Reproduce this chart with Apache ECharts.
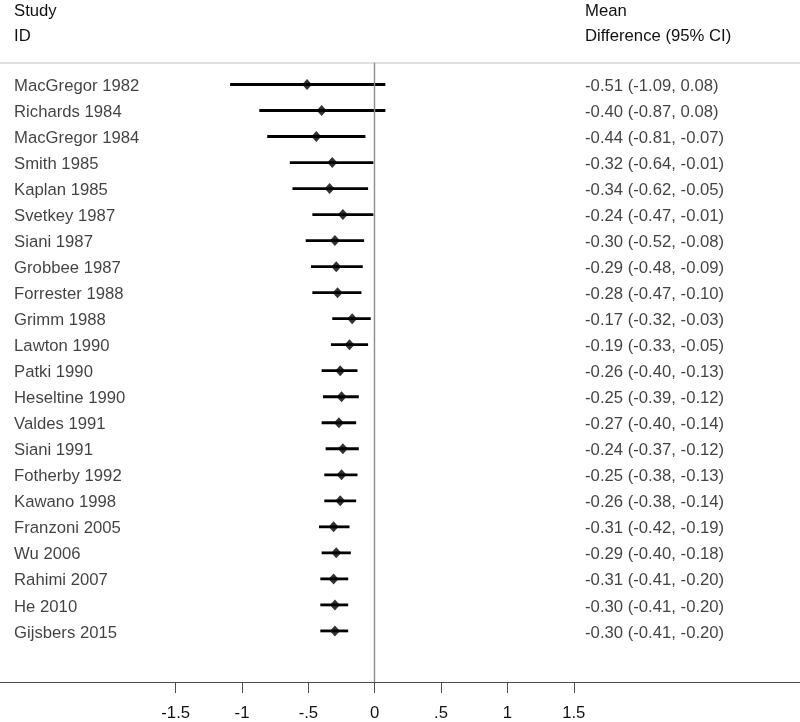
<!DOCTYPE html>
<html>
<head>
<meta charset="utf-8">
<script src="https://cdn.jsdelivr.net/npm/echarts@6/dist/echarts.min.js"></script>
<style>html,body{margin:0;padding:0;background:#fff;}#c{width:800px;height:722px;}</style>
</head>
<body>
<div id="c"></div>
<script>
var studies = ["MacGregor 1982","Richards 1984","MacGregor 1984","Smith 1985","Kaplan 1985","Svetkey 1987","Siani 1987","Grobbee 1987","Forrester 1988","Grimm 1988","Lawton 1990","Patki 1990","Heseltine 1990","Valdes 1991","Siani 1991","Fotherby 1992","Kawano 1998","Franzoni 2005","Wu 2006","Rahimi 2007","He 2010","Gijsbers 2015"];
var means = [-0.51,-0.40,-0.44,-0.32,-0.34,-0.24,-0.30,-0.29,-0.28,-0.17,-0.19,-0.26,-0.25,-0.27,-0.24,-0.25,-0.26,-0.31,-0.29,-0.31,-0.30,-0.30];
var lows = [-1.09,-0.87,-0.81,-0.64,-0.62,-0.47,-0.52,-0.48,-0.47,-0.32,-0.33,-0.40,-0.39,-0.40,-0.37,-0.38,-0.38,-0.42,-0.40,-0.41,-0.41,-0.41];
var highs = [0.08,0.08,-0.07,-0.01,-0.05,-0.01,-0.08,-0.09,-0.10,-0.03,-0.05,-0.13,-0.12,-0.14,-0.12,-0.13,-0.14,-0.19,-0.18,-0.20,-0.20,-0.20];
var tickValues = [-1.5,-1,-0.5,0,0.5,1,1.5];
var tickLabels = ["-1.5","-1","-.5","0",".5","1","1.5"];
var headerLeft = ["Study","ID"];
var headerRight = ["Mean","Difference (95% CI)"];

function fmt(v){ return (v < 0 ? "-" : "") + Math.abs(v).toFixed(2); }

var FONT = "Liberation Sans, Arial, sans-serif";
var FS = 16.7;
var TXT = "#111";
var NAME_X = -2.718, CI_X = 1.585;

var chart = echarts.init(document.getElementById('c'), null, {renderer:'canvas'});

var barData = studies.map(function(s,i){ return [lows[i], highs[i], i]; });
var ptData = studies.map(function(s,i){ return [means[i], i]; });
var nameData = studies.map(function(s,i){ return {value:[NAME_X, i], label:{formatter: s}}; });
var ciData = studies.map(function(s,i){ return {value:[CI_X, i], label:{formatter: fmt(means[i]) + " (" + fmt(lows[i]) + ", " + fmt(highs[i]) + ")"}}; });

var textLabel = {show:true, position:'inside', align:'left', verticalAlign:'middle', offset:[0,2], color:TXT, fontFamily:FONT, fontSize:FS};

chart.setOption({
  animation:false,
  backgroundColor:'#fff',
  grid:{left:0, right:0, top:62.7, bottom:39.3},
  xAxis:[{
    type:'value', min:-2.824, max:3.205, position:'bottom',
    splitLine:{show:false},
    axisLine:{show:true, onZero:false, lineStyle:{color:'#4d4d4d', width:1.2}},
    axisTick:{show:true, customValues:tickValues, length:11, lineStyle:{color:'#4d4d4d', width:1}},
    axisLabel:{show:true, customValues:tickValues, margin:23, color:TXT, fontFamily:FONT, fontSize:FS,
      formatter:function(v){ var k = tickValues.indexOf(v); return k>=0 ? tickLabels[k] : ''; }}
  },{
    type:'value', min:-2.824, max:3.205, position:'top',
    splitLine:{show:false}, axisTick:{show:false}, axisLabel:{show:false},
    axisLine:{show:true, onZero:false, lineStyle:{color:'#d6d6d6', width:1.5}}
  }],
  yAxis:{type:'value', inverse:true, min:-0.837, max:22.963, show:false},
  graphic:[
    {type:'text', left:14, top:3, style:{text:headerLeft[0], font:FS+'px '+FONT, fill:TXT}},
    {type:'text', left:14, top:28, style:{text:headerLeft[1], font:FS+'px '+FONT, fill:TXT}},
    {type:'text', left:585, top:3, style:{text:headerRight[0], font:FS+'px '+FONT, fill:TXT}},
    {type:'text', left:585, top:28, style:{text:headerRight[1], font:FS+'px '+FONT, fill:TXT}}
  ],
  series:[
    {
      type:'custom', data:barData, encode:{x:[0,1], y:2},
      renderItem:function(params, api){
        var a = api.coord([api.value(0), api.value(2)]);
        var b = api.coord([api.value(1), api.value(2)]);
        return {type:'line', shape:{x1:a[0], y1:a[1], x2:b[0], y2:b[1]}, style:{stroke:'#000', lineWidth:2.8}};
      },
      markLine:{
        silent:true, symbol:['none','none'], label:{show:false},
        lineStyle:{color:'#8c8c8c', width:1.4, type:'solid'},
        data:[{xAxis:0}]
      },
      z:2
    },
    {type:'scatter', data:ptData, symbol:'diamond', symbolSize:[10,11], itemStyle:{color:'#000'}, z:3},
    {type:'scatter', data:nameData, symbolSize:0, label:textLabel, silent:true},
    {type:'scatter', data:ciData, symbolSize:0, label:textLabel, silent:true}
  ]
});
</script>
</body>
</html>
